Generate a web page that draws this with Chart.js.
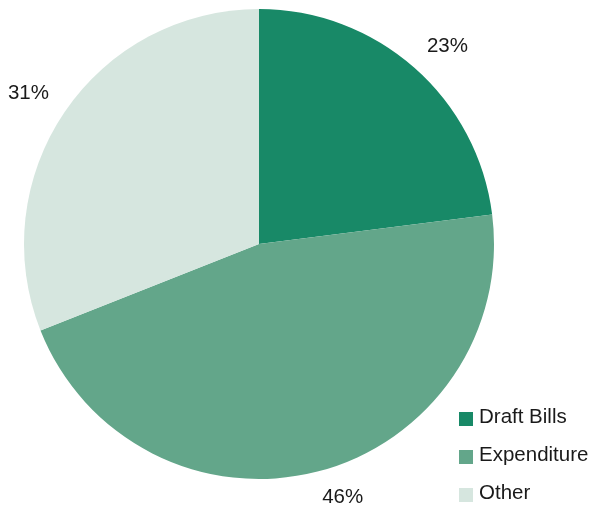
<!DOCTYPE html>
<html>
<head>
<meta charset="utf-8">
<script src="https://cdn.jsdelivr.net/npm/chart.js@4/dist/chart.umd.min.js"></script>
<style>
html,body{margin:0;padding:0;background:#fff;}
#wrap{width:594px;height:513px;position:relative;}
</style>
</head>
<body>
<div id="wrap"><canvas id="c" width="594" height="513"></canvas></div>
<script>
const categories = ["Draft Bills", "Expenditure", "Other"];
const shares = [23, 46, 31];
const sliceColors = ["#188967", "#63a68a", "#d6e6df"];

const FONT = '20.5px "Liberation Sans", Arial, sans-serif';

const outsideLabels = {
  id: 'outsideLabels',
  afterDatasetsDraw(chart) {
    const ctx = chart.ctx;
    const meta = chart.getDatasetMeta(0);
    ctx.save();
    ctx.font = FONT;
    ctx.fillStyle = '#1a1a1a';
    ctx.textAlign = 'center';
    ctx.textBaseline = 'middle';
    meta.data.forEach((arc, i) => {
      const p = arc.getProps(['x','y','startAngle','endAngle','outerRadius'], true);
      const mid = (p.startAngle + p.endAngle) / 2;
      const r = p.outerRadius + 19;
      const ax = p.x + Math.cos(mid) * r;
      const ay = p.y + Math.sin(mid) * r;
      const txt = shares[i] + '%';
      const w = ctx.measureText(txt).width, h = 15;
      const cx = ax + Math.sign(Math.cos(mid)) * w / 2;
      const cy = ay + Math.sign(Math.sin(mid)) * h / 2;
      ctx.fillText(txt, cx, cy);
    });
    ctx.restore();
  }
};

const customLegend = {
  id: 'customLegend',
  afterDraw(chart) {
    const ctx = chart.ctx;
    ctx.save();
    ctx.font = FONT;
    ctx.textBaseline = 'middle';
    ctx.textAlign = 'left';
    const x0 = 459, y0 = 419, step = 38, box = 14;
    chart.data.labels.forEach((lab, i) => {
      const cy = y0 + i * step;
      ctx.fillStyle = chart.data.datasets[0].backgroundColor[i];
      ctx.fillRect(x0, cy - box / 2, box, box);
      ctx.fillStyle = '#1a1a1a';
      ctx.fillText(lab, x0 + 20, cy - 2);
    });
    ctx.restore();
  }
};

new Chart(document.getElementById('c'), {
  type: 'pie',
  data: {
    labels: categories,
    datasets: [{
      data: shares,
      backgroundColor: sliceColors,
      borderWidth: 0,
      hoverOffset: 0
    }]
  },
  options: {
    responsive: false,
    animation: false,
    layout: { padding: { left: 24, right: 100, top: 9, bottom: 34 } },
    plugins: {
      legend: { display: false },
      tooltip: { enabled: false }
    }
  },
  plugins: [outsideLabels, customLegend]
});
</script>
</body>
</html>
